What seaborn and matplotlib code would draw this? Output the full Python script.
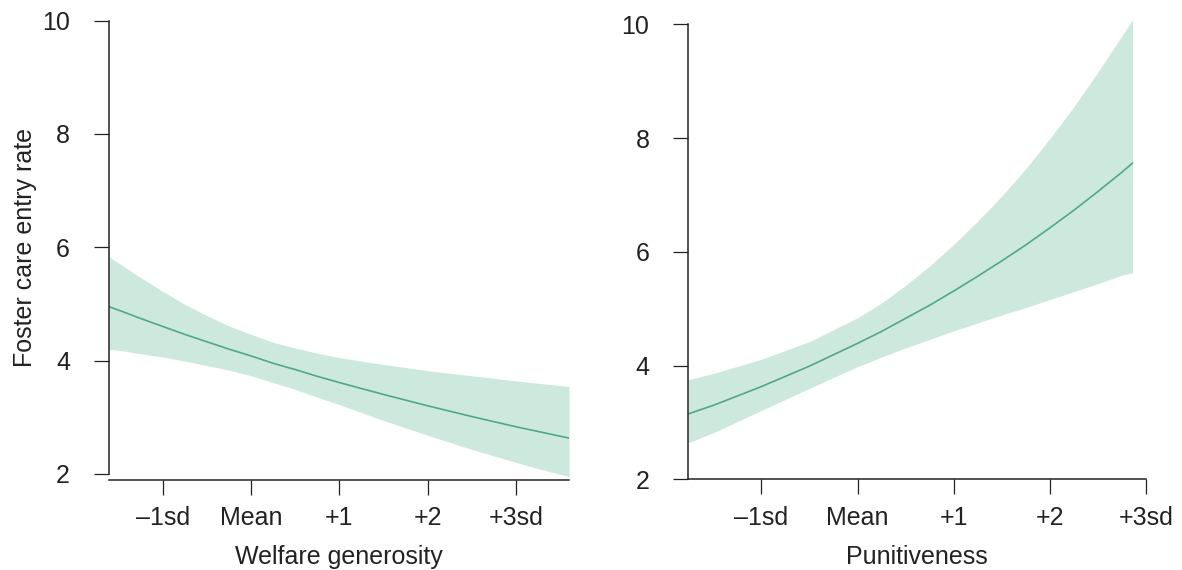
import matplotlib
matplotlib.use("Agg")
import matplotlib.pyplot as plt
import pandas as pd
import seaborn as sns

# values (x in sd units)
tick_pos = [-1, 0, 1, 2, 3]
tick_labels = ["\u20131sd", "Mean", "+1", "+2", "+3sd"]
y_ticks = [2, 4, 6, 8, 10]

welfare_x = [-1.61, -1.45, -1.3, -1.0, -0.75, -0.5, -0.25, 0.0, 0.25, 0.5, 0.75,
             1.0, 1.5, 2.0, 2.5, 3.0, 3.3, 3.6]
welfare_fit = [4.95, 4.86, 4.77, 4.60, 4.46, 4.33, 4.20, 4.08, 3.95, 3.84, 3.72,
               3.61, 3.40, 3.20, 3.01, 2.83, 2.73, 2.63]
welfare_hi = [5.83, 5.67, 5.51, 5.22, 4.99, 4.79, 4.61, 4.46, 4.32, 4.22, 4.13,
              4.05, 3.93, 3.82, 3.73, 3.64, 3.59, 3.54]
welfare_lo = [4.20, 4.17, 4.13, 4.06, 3.99, 3.91, 3.83, 3.73, 3.61, 3.49, 3.35,
              3.22, 2.94, 2.68, 2.43, 2.20, 2.07, 1.95]

punit_x = [-1.76, -1.5, -1.0, -0.5, 0.0, 0.25, 0.5, 0.75, 1.0, 1.25, 1.5, 1.75,
           2.0, 2.25, 2.5, 2.75, 2.86]
punit_fit = [3.15, 3.30, 3.63, 3.99, 4.39, 4.60, 4.83, 5.06, 5.31, 5.57, 5.84, 6.12,
             6.42, 6.73, 7.06, 7.40, 7.56]
punit_hi = [3.75, 3.86, 4.11, 4.42, 4.84, 5.10, 5.41, 5.75, 6.13, 6.54, 6.98, 7.46,
            7.99, 8.55, 9.16, 9.80, 10.08]
punit_lo = [2.64, 2.82, 3.21, 3.60, 3.98, 4.15, 4.31, 4.46, 4.61, 4.75, 4.89, 5.02,
            5.16, 5.30, 5.44, 5.59, 5.63]

LINE = "#4fa886"
BAND = "#cde9de"
INK = "#222222"

sns.set_theme(style="ticks")
plt.rcParams["font.family"] = ["Liberation Sans", "DejaVu Sans"]
plt.rcParams["font.size"] = 18

fig = plt.figure(figsize=(11.82, 5.70), dpi=100)
W, H = 1182.0, 570.0

# axes rectangles in pixels: left, right, top(px from top), bottom(px from top)
panels = [
    dict(x=welfare_x, fit=welfare_fit, hi=welfare_hi, lo=welfare_lo,
         px=(109, 569, 20.7, 480), xlim=(-1.61, 3.6), ylim=(1.89, 10.0),
         xlabel="Welfare generosity", ylabel="Foster care entry rate"),
    dict(x=punit_x, fit=punit_fit, hi=punit_hi, lo=punit_lo,
         px=(688.3, 1146, 18.6, 479.3), xlim=(-1.76, 3.0), ylim=(2.0, 10.1),
         xlabel="Punitiveness", ylabel=None),
]

for p in panels:
    l, r, t, b = p["px"]
    ax = fig.add_axes([l / W, 1 - b / H, (r - l) / W, (b - t) / H])
    df = pd.DataFrame({"x": p["x"], "fit": p["fit"], "hi": p["hi"], "lo": p["lo"]})

    ax.fill_between(df["x"], df["lo"], df["hi"], color=BAND, lw=0, zorder=1)
    sns.lineplot(data=df, x="x", y="fit", ax=ax, color=LINE, lw=1.2, zorder=2)

    ax.set_xlim(*p["xlim"])
    ax.set_ylim(*p["ylim"])
    ax.set_xticks(tick_pos)
    ax.set_xticklabels(tick_labels)
    ax.set_yticks(y_ticks)

    sns.despine(ax=ax)
    ax.spines["left"].set_bounds(2, 10)
    for s in ("left", "bottom"):
        ax.spines[s].set_color(INK)
        ax.spines[s].set_linewidth(1.1)

    ax.tick_params(axis="both", colors=INK, labelcolor=INK, length=11,
                   width=0.9, labelsize=18)
    ax.tick_params(axis="x", pad=8)
    ax.tick_params(axis="y", pad=17)

    ax.set_xlabel(p["xlabel"], color=INK, fontsize=18)
    ax.xaxis.set_label_coords(0.5, -0.142)
    if p["ylabel"]:
        ax.set_ylabel(p["ylabel"], color=INK, fontsize=18)
        ax.yaxis.set_label_coords((37 - l) / (r - l), 0.507)
    else:
        ax.set_ylabel("")

fig.savefig("out.png", dpi=100)
